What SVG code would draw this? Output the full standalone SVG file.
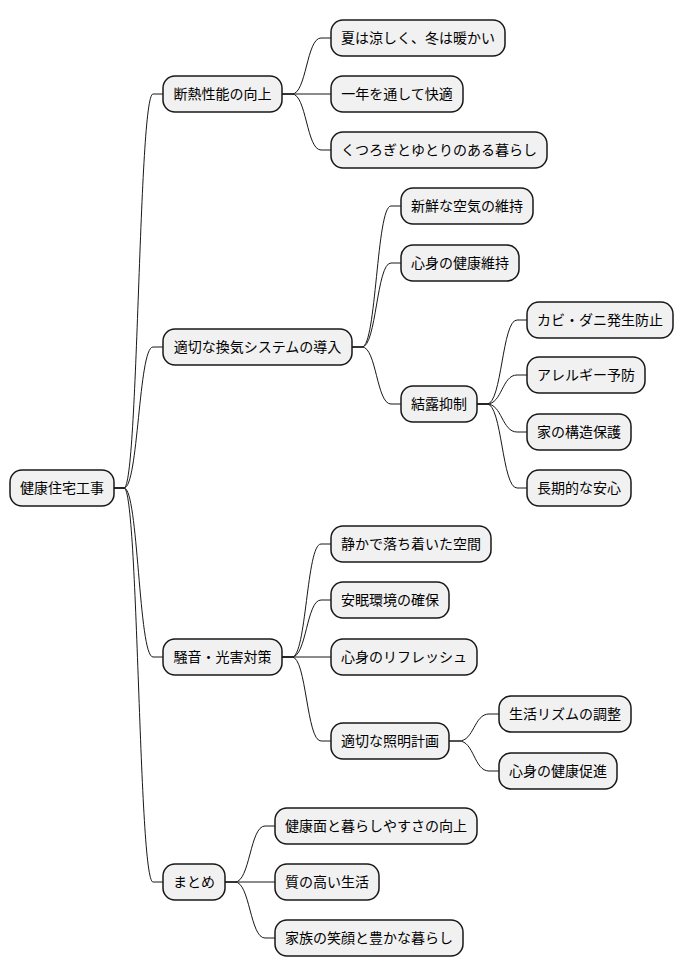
<svg xmlns="http://www.w3.org/2000/svg" width="684" height="978" viewBox="0 0 684 978">
<style>
.n rect{fill:#F1F1F1;stroke:#181818;stroke-width:1.5}
.n text{font-family:"Noto Sans CJK JP","Noto Sans",sans-serif;font-size:14px;fill:#000;text-anchor:middle}
#edges path{fill:none;stroke:#181818;stroke-width:1}
</style>
<rect width="684" height="978" fill="#FFFFFF"/>
<g id="edges">
<path d="M114,488 H124 C138.5,488 138.5,94 153,94 H163"/>
<path d="M114,488 H124 C138.5,488 138.5,347 153,347 H163"/>
<path d="M114,488 H124 C138.5,488 138.5,657 153,657 H163"/>
<path d="M114,488 H124 C138.5,488 138.5,882 153,882 H163"/>
<path d="M282,94 H292 C306.5,94 306.5,38 321,38 H331"/>
<path d="M282,94 H331"/>
<path d="M282,94 H292 C306.5,94 306.5,150 321,150 H331"/>
<path d="M352,347 H362 C376.5,347 376.5,206 391,206 H401"/>
<path d="M352,347 H362 C376.5,347 376.5,263 391,263 H401"/>
<path d="M352,347 H362 C376.5,347 376.5,404 391,404 H401"/>
<path d="M477,404 H487 C502,404 502,320 517,320 H527"/>
<path d="M477,404 H487 C502,404 502,375 517,375 H527"/>
<path d="M477,404 H487 C502,404 502,432 517,432 H527"/>
<path d="M477,404 H487 C502,404 502,488 517,488 H527"/>
<path d="M282,657 H292 C306.5,657 306.5,544 321,544 H331"/>
<path d="M282,657 H292 C306.5,657 306.5,600 321,600 H331"/>
<path d="M282,657 H331"/>
<path d="M282,657 H292 C306.5,657 306.5,741 321,741 H331"/>
<path d="M449,741 H459 C474,741 474,714 489,714 H499"/>
<path d="M449,741 H459 C474,741 474,771 489,771 H499"/>
<path d="M225,882 H235 C250,882 250,826 265,826 H275"/>
<path d="M225,882 H275"/>
<path d="M225,882 H235 C250,882 250,938 265,938 H275"/>
</g>
<g id="root" class="n"><rect x="10" y="470" width="104" height="36" rx="12"/><text x="62" y="493">健康住宅工事</text></g>
<g id="n1" class="n"><rect x="163" y="76" width="119" height="36" rx="12"/><text x="222.5" y="99">断熱性能の向上</text></g>
<g id="n1a" class="n"><rect x="331" y="20" width="174" height="36" rx="12"/><text x="418" y="43">夏は涼しく、冬は暖かい</text></g>
<g id="n1b" class="n"><rect x="331" y="76" width="132" height="36" rx="12"/><text x="397" y="99">一年を通して快適</text></g>
<g id="n1c" class="n"><rect x="331" y="132" width="216" height="36" rx="12"/><text x="439" y="155">くつろぎとゆとりのある暮らし</text></g>
<g id="n2" class="n"><rect x="163" y="329" width="189" height="36" rx="12"/><text x="257.5" y="352">適切な換気システムの導入</text></g>
<g id="n2a" class="n"><rect x="401" y="188" width="132" height="36" rx="12"/><text x="467" y="211">新鮮な空気の維持</text></g>
<g id="n2b" class="n"><rect x="401" y="245" width="118" height="36" rx="12"/><text x="460" y="268">心身の健康維持</text></g>
<g id="n2c" class="n"><rect x="401" y="386" width="76" height="36" rx="12"/><text x="439" y="409">結露抑制</text></g>
<g id="n2c1" class="n"><rect x="527" y="302" width="146" height="36" rx="12"/><text x="600" y="325">カビ・ダニ発生防止</text></g>
<g id="n2c2" class="n"><rect x="527" y="357" width="118" height="36" rx="12"/><text x="586" y="380">アレルギー予防</text></g>
<g id="n2c3" class="n"><rect x="527" y="414" width="104" height="36" rx="12"/><text x="579" y="437">家の構造保護</text></g>
<g id="n2c4" class="n"><rect x="527" y="470" width="104" height="36" rx="12"/><text x="579" y="493">長期的な安心</text></g>
<g id="n3" class="n"><rect x="163" y="639" width="119" height="36" rx="12"/><text x="222.5" y="662">騒音・光害対策</text></g>
<g id="n3a" class="n"><rect x="331" y="526" width="160" height="36" rx="12"/><text x="411" y="549">静かで落ち着いた空間</text></g>
<g id="n3b" class="n"><rect x="331" y="582" width="118" height="36" rx="12"/><text x="390" y="605">安眠環境の確保</text></g>
<g id="n3c" class="n"><rect x="331" y="639" width="146" height="36" rx="12"/><text x="404" y="662">心身のリフレッシュ</text></g>
<g id="n3d" class="n"><rect x="331" y="723" width="118" height="36" rx="12"/><text x="390" y="746">適切な照明計画</text></g>
<g id="n3d1" class="n"><rect x="499" y="696" width="132" height="36" rx="12"/><text x="565" y="719">生活リズムの調整</text></g>
<g id="n3d2" class="n"><rect x="499" y="753" width="118" height="36" rx="12"/><text x="558" y="776">心身の健康促進</text></g>
<g id="n4" class="n"><rect x="163" y="864" width="62" height="36" rx="12"/><text x="194" y="887">まとめ</text></g>
<g id="n4a" class="n"><rect x="275" y="808" width="202" height="36" rx="12"/><text x="376" y="831">健康面と暮らしやすさの向上</text></g>
<g id="n4b" class="n"><rect x="275" y="864" width="104" height="36" rx="12"/><text x="327" y="887">質の高い生活</text></g>
<g id="n4c" class="n"><rect x="275" y="920" width="188" height="36" rx="12"/><text x="369" y="943">家族の笑顔と豊かな暮らし</text></g>
</svg>
